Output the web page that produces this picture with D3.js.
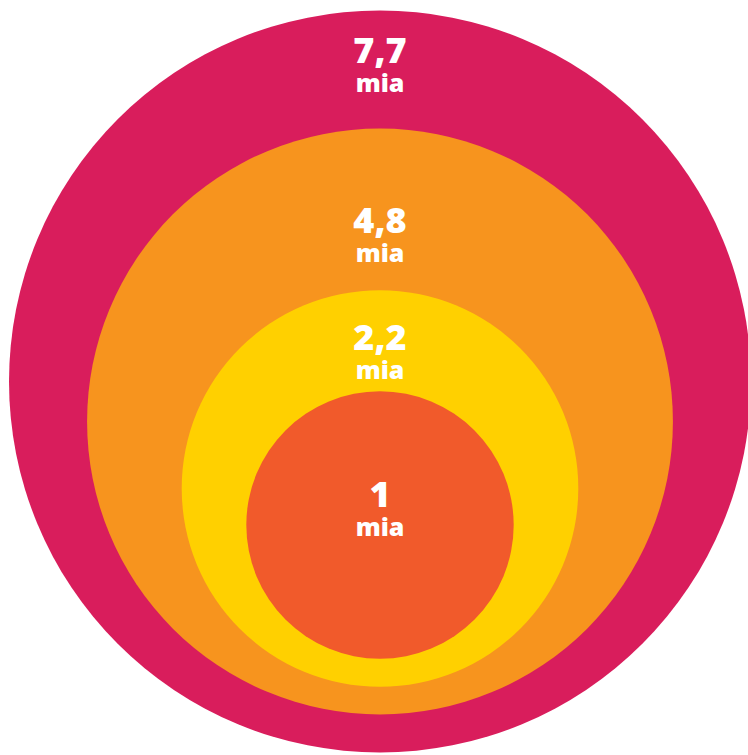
<!DOCTYPE html>
<html><head><meta charset="utf-8">
<script src="https://cdn.jsdelivr.net/npm/d3@7"></script>
<style>html,body{margin:0;padding:0;background:#fff;}svg{display:block;}</style>
</head><body>
<svg id="chart" width="748" height="755"></svg>
<script>
const categories = ["7,7", "4,8", "2,2", "1"];
const values = [7.7, 4.8, 2.2, 1];
const unitLabel = "mia";
const colors = ["#D91D5C", "#F7941E", "#FFD000", "#F15A2B"];

const svg = d3.select("#chart");
const cx = 380;
const rScale = d3.scaleSqrt().domain([0, 7.7]).range([0, 371]);
// layout: circle center y and label baseline y
const centerY = [381.5, 421.5, 488.5, 525];
const labelY = [63, 233, 350, 507];

const data = values.map((v, i) => ({v, label: categories[i], color: colors[i], cy: centerY[i], ly: labelY[i]}));

svg.selectAll("circle").data(data).join("circle")
  .attr("cx", cx).attr("cy", d => d.cy).attr("r", d => rScale(d.v))
  .attr("fill", d => d.color);

const t = svg.selectAll("text.lbl").data(data).join("text").attr("class", "lbl")
  .attr("x", cx).attr("y", d => d.ly)
  .attr("text-anchor", "middle").attr("fill", "#fff")
  .style("font-family", "'Open Sans', sans-serif").style("font-weight", 800);
t.append("tspan").attr("x", cx).style("font-size", "36px").text(d => d.label);
t.append("tspan").attr("x", cx).attr("dy", 29).style("font-size", "25px").text(unitLabel);
</script>
</body></html>
